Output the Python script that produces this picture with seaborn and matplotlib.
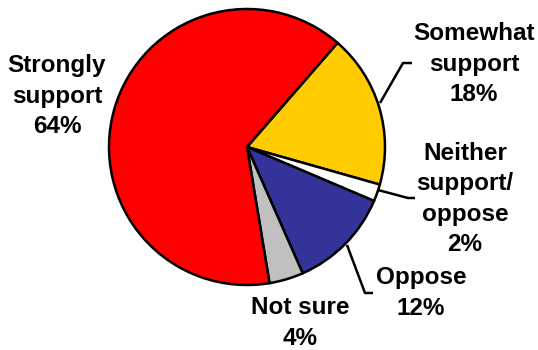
import matplotlib
matplotlib.use("Agg")
import matplotlib.pyplot as plt
import seaborn as sns

sns.set_theme(style="white")
plt.rcParams["font.family"] = ["Liberation Sans", "DejaVu Sans"]

# Survey responses, drawn clockwise
categories = ["Somewhat\nsupport", "Neither\nsupport/\noppose", "Oppose", "Not sure", "Strongly\nsupport"]
shares = [18, 2, 12, 4, 64]
colors = ["#FFCC00", "#FFFFFF", "#333399", "#C0C0C0", "#FF0000"]

fig = plt.figure(figsize=(5.38, 3.5), dpi=100)
ax = fig.add_axes([0, 0, 1, 1])

H = 350
cx, cy, r = 247, H - 147, 138
wedges, _ = ax.pie(
    shares, colors=colors, startangle=49, counterclock=False,
    center=(cx, cy), radius=r, frame=True,
    wedgeprops=dict(edgecolor="black", linewidth=1.8),
)
ax.set_xlim(0, 538)
ax.set_ylim(0, 350)
ax.set_axis_off()

# label positions (x, y of text centre) and optional leader lines
label_pos = [(474, 64), (465, 199), (421, 293), (300, 323), (57, 96)]
leaders = [
    [(380, 103), (403, 63), (412, 63)],
    [(378, 190), (408, 198), (415, 198)],
    [(347, 245), (365, 293), (373, 293)],
    None,
    None,
]

for cat, val, (x, y), ld in zip(categories, shares, label_pos, leaders):
    ax.text(x, H - y, f"{cat}\n{val}%", ha="center", va="center",
            fontsize=17.5, fontweight="bold", color="black", linespacing=1.4)
    if ld:
        xs = [p[0] for p in ld]
        ys = [H - p[1] for p in ld]
        ax.plot(xs, ys, color="black", linewidth=1.8, solid_capstyle="butt")

fig.savefig("out.png", dpi=100)
